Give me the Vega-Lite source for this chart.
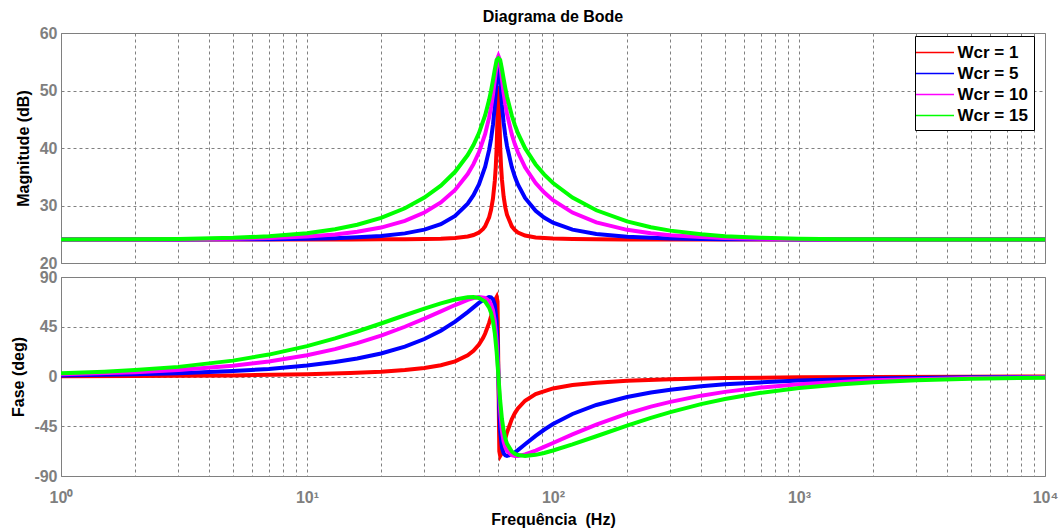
{
  "$schema": "https://vega.github.io/schema/vega-lite/v6.json",
  "background": "white",
  "padding": {"left": 10, "top": 8, "right": 5, "bottom": 0},
  "title": {"text": "Diagrama de Bode", "font": "Liberation Sans", "fontSize": 16, "fontWeight": "bold", "color": "#000000", "anchor": "middle", "frame": "group", "offset": 0},
  "bounds": "flush",
  "spacing": 14,
  "config": {
    "view": {"stroke": "#7f7f7f", "strokeWidth": 1},
    "axis": {"labelFont": "Liberation Sans", "labelFontSize": 16, "labelFontWeight": "bold", "labelColor": "#7f7f7f", "titleFont": "Liberation Sans", "titleFontSize": 16, "titleFontWeight": "bold", "titleColor": "#000000", "domain": false, "ticks": false, "gridColor": "#808080", "gridDash": [3, 3], "gridWidth": 1, "gridOpacity": 1}
  },
  "resolve": {"scale": {"color": "independent"}, "legend": {"color": "independent"}},
  "data": {"values": [
    {"s":"Wcr = 1","f":1,"mag":24.08,"ph":0.19},
    {"s":"Wcr = 1","f":2,"mag":24.08,"ph":0.39},
    {"s":"Wcr = 1","f":5,"mag":24.08,"ph":0.98},
    {"s":"Wcr = 1","f":10,"mag":24.09,"ph":2.0},
    {"s":"Wcr = 1","f":15,"mag":24.09,"ph":3.11},
    {"s":"Wcr = 1","f":20,"mag":24.11,"ph":4.37},
    {"s":"Wcr = 1","f":25,"mag":24.13,"ph":5.87},
    {"s":"Wcr = 1","f":30,"mag":24.17,"ph":7.74},
    {"s":"Wcr = 1","f":35,"mag":24.23,"ph":10.21},
    {"s":"Wcr = 1","f":40,"mag":24.35,"ph":13.73},
    {"s":"Wcr = 1","f":45,"mag":24.61,"ph":19.21},
    {"s":"Wcr = 1","f":47.5,"mag":24.86,"ph":23.28},
    {"s":"Wcr = 1","f":50,"mag":25.31,"ph":28.88},
    {"s":"Wcr = 1","f":52,"mag":25.93,"ph":35.02},
    {"s":"Wcr = 1","f":53,"mag":26.4,"ph":38.85},
    {"s":"Wcr = 1","f":55,"mag":27.96,"ph":48.47},
    {"s":"Wcr = 1","f":56,"mag":29.26,"ph":54.38},
    {"s":"Wcr = 1","f":57,"mag":31.19,"ph":60.91},
    {"s":"Wcr = 1","f":58,"mag":34.27,"ph":67.57},
    {"s":"Wcr = 1","f":58.5,"mag":36.6,"ph":70.41},
    {"s":"Wcr = 1","f":59,"mag":39.97,"ph":71.9},
    {"s":"Wcr = 1","f":59.5,"mag":45.63,"ph":67.84},
    {"s":"Wcr = 1","f":60,"mag":50.8,"ph":0},
    {"s":"Wcr = 1","f":60.5,"mag":45.7,"ph":-67.74},
    {"s":"Wcr = 1","f":61,"mag":40.1,"ph":-71.9},
    {"s":"Wcr = 1","f":61.5,"mag":36.81,"ph":-70.59},
    {"s":"Wcr = 1","f":62,"mag":34.54,"ph":-67.97},
    {"s":"Wcr = 1","f":63,"mag":31.55,"ph":-61.87},
    {"s":"Wcr = 1","f":64,"mag":29.67,"ph":-55.95},
    {"s":"Wcr = 1","f":65,"mag":28.4,"ph":-50.66},
    {"s":"Wcr = 1","f":68,"mag":26.37,"ph":-38.61},
    {"s":"Wcr = 1","f":70,"mag":25.72,"ph":-33.08},
    {"s":"Wcr = 1","f":72,"mag":25.31,"ph":-28.88},
    {"s":"Wcr = 1","f":77,"mag":24.77,"ph":-21.94},
    {"s":"Wcr = 1","f":85,"mag":24.44,"ph":-15.97},
    {"s":"Wcr = 1","f":100,"mag":24.25,"ph":-10.81},
    {"s":"Wcr = 1","f":120,"mag":24.17,"ph":-7.74},
    {"s":"Wcr = 1","f":150,"mag":24.13,"ph":-5.55},
    {"s":"Wcr = 1","f":200,"mag":24.1,"ph":-3.85},
    {"s":"Wcr = 1","f":300,"mag":24.09,"ph":-2.43},
    {"s":"Wcr = 1","f":500,"mag":24.08,"ph":-1.42},
    {"s":"Wcr = 1","f":1000,"mag":24.08,"ph":-0.7},
    {"s":"Wcr = 1","f":2000,"mag":24.08,"ph":-0.35},
    {"s":"Wcr = 1","f":5000,"mag":24.08,"ph":-0.14},
    {"s":"Wcr = 1","f":10000,"mag":24.08,"ph":-0.07},

    {"s":"Wcr = 5","f":1,"mag":24.08,"ph":0.97},
    {"s":"Wcr = 5","f":2,"mag":24.09,"ph":1.95},
    {"s":"Wcr = 5","f":3,"mag":24.09,"ph":2.93},
    {"s":"Wcr = 5","f":5,"mag":24.12,"ph":4.89},
    {"s":"Wcr = 5","f":7,"mag":24.15,"ph":6.87},
    {"s":"Wcr = 5","f":10,"mag":24.22,"ph":9.91},
    {"s":"Wcr = 5","f":13,"mag":24.32,"ph":13.03},
    {"s":"Wcr = 5","f":16,"mag":24.46,"ph":16.28},
    {"s":"Wcr = 5","f":20,"mag":24.7,"ph":20.85},
    {"s":"Wcr = 5","f":25,"mag":25.15,"ph":27.04},
    {"s":"Wcr = 5","f":30,"mag":25.8,"ph":33.88},
    {"s":"Wcr = 5","f":35,"mag":26.76,"ph":41.42},
    {"s":"Wcr = 5","f":40,"mag":28.19,"ph":49.63},
    {"s":"Wcr = 5","f":45,"mag":30.32,"ph":58.25},
    {"s":"Wcr = 5","f":47.5,"mag":31.79,"ph":62.52},
    {"s":"Wcr = 5","f":50,"mag":33.67,"ph":66.55},
    {"s":"Wcr = 5","f":53,"mag":36.75,"ph":70.53},
    {"s":"Wcr = 5","f":55,"mag":39.67,"ph":71.89},
    {"s":"Wcr = 5","f":56,"mag":41.59,"ph":71.61},
    {"s":"Wcr = 5","f":57,"mag":44.01,"ph":69.9},
    {"s":"Wcr = 5","f":58,"mag":47.25,"ph":64.93},
    {"s":"Wcr = 5","f":59,"mag":51.85,"ph":49.89},
    {"s":"Wcr = 5","f":59.5,"mag":54.55,"ph":31.33},
    {"s":"Wcr = 5","f":60,"mag":54.8,"ph":0},
    {"s":"Wcr = 5","f":60.5,"mag":54.57,"ph":-31.13},
    {"s":"Wcr = 5","f":61,"mag":51.93,"ph":-49.45},
    {"s":"Wcr = 5","f":62,"mag":47.5,"ph":-64.39},
    {"s":"Wcr = 5","f":63,"mag":44.41,"ph":-69.47},
    {"s":"Wcr = 5","f":64,"mag":42.14,"ph":-71.36},
    {"s":"Wcr = 5","f":65,"mag":40.36,"ph":-71.89},
    {"s":"Wcr = 5","f":68,"mag":36.68,"ph":-70.48},
    {"s":"Wcr = 5","f":70,"mag":34.99,"ph":-68.62},
    {"s":"Wcr = 5","f":72,"mag":33.67,"ph":-66.55},
    {"s":"Wcr = 5","f":77,"mag":31.32,"ph":-61.26},
    {"s":"Wcr = 5","f":85,"mag":29.08,"ph":-53.67},
    {"s":"Wcr = 5","f":92,"mag":27.9,"ph":-48.17},
    {"s":"Wcr = 5","f":100,"mag":27.01,"ph":-43.02},
    {"s":"Wcr = 5","f":120,"mag":25.8,"ph":-33.88},
    {"s":"Wcr = 5","f":150,"mag":25.04,"ph":-25.76},
    {"s":"Wcr = 5","f":200,"mag":24.57,"ph":-18.53},
    {"s":"Wcr = 5","f":250,"mag":24.38,"ph":-14.53},
    {"s":"Wcr = 5","f":300,"mag":24.28,"ph":-11.98},
    {"s":"Wcr = 5","f":400,"mag":24.19,"ph":-8.89},
    {"s":"Wcr = 5","f":500,"mag":24.15,"ph":-7.07},
    {"s":"Wcr = 5","f":1000,"mag":24.1,"ph":-3.51},
    {"s":"Wcr = 5","f":2000,"mag":24.09,"ph":-1.75},
    {"s":"Wcr = 5","f":5000,"mag":24.08,"ph":-0.7},
    {"s":"Wcr = 5","f":10000,"mag":24.08,"ph":-0.35},

    {"s":"Wcr = 10","f":1,"mag":24.09,"ph":1.95},
    {"s":"Wcr = 10","f":2,"mag":24.1,"ph":3.89},
    {"s":"Wcr = 10","f":3,"mag":24.13,"ph":5.83},
    {"s":"Wcr = 10","f":5,"mag":24.21,"ph":9.7},
    {"s":"Wcr = 10","f":7,"mag":24.34,"ph":13.54},
    {"s":"Wcr = 10","f":10,"mag":24.61,"ph":19.21},
    {"s":"Wcr = 10","f":13,"mag":24.97,"ph":24.75},
    {"s":"Wcr = 10","f":16,"mag":25.42,"ph":30.12},
    {"s":"Wcr = 10","f":20,"mag":26.16,"ph":36.98},
    {"s":"Wcr = 10","f":25,"mag":27.33,"ph":45.0},
    {"s":"Wcr = 10","f":30,"mag":28.77,"ph":52.33},
    {"s":"Wcr = 10","f":35,"mag":30.53,"ph":58.93},
    {"s":"Wcr = 10","f":40,"mag":32.7,"ph":64.64},
    {"s":"Wcr = 10","f":45,"mag":35.47,"ph":69.23},
    {"s":"Wcr = 10","f":47.5,"mag":37.19,"ph":70.88},
    {"s":"Wcr = 10","f":50,"mag":39.25,"ph":71.83},
    {"s":"Wcr = 10","f":53,"mag":42.45,"ph":71.18},
    {"s":"Wcr = 10","f":55,"mag":45.32,"ph":68.3},
    {"s":"Wcr = 10","f":56,"mag":47.11,"ph":65.21},
    {"s":"Wcr = 10","f":57,"mag":49.25,"ph":59.86},
    {"s":"Wcr = 10","f":58,"mag":51.8,"ph":50.1},
    {"s":"Wcr = 10","f":59,"mag":54.54,"ph":31.44},
    {"s":"Wcr = 10","f":59.5,"mag":55.59,"ph":17.05},
    {"s":"Wcr = 10","f":60,"mag":56.0,"ph":0},
    {"s":"Wcr = 10","f":60.5,"mag":55.6,"ph":-16.92},
    {"s":"Wcr = 10","f":61,"mag":54.58,"ph":-31.02},
    {"s":"Wcr = 10","f":62,"mag":51.98,"ph":-49.24},
    {"s":"Wcr = 10","f":63,"mag":49.59,"ph":-58.8},
    {"s":"Wcr = 10","f":64,"mag":47.61,"ph":-64.14},
    {"s":"Wcr = 10","f":65,"mag":45.97,"ph":-67.3},
    {"s":"Wcr = 10","f":68,"mag":42.37,"ph":-71.23},
    {"s":"Wcr = 10","f":70,"mag":40.65,"ph":-71.86},
    {"s":"Wcr = 10","f":72,"mag":39.25,"ph":-71.83},
    {"s":"Wcr = 10","f":77,"mag":36.64,"ph":-70.45},
    {"s":"Wcr = 10","f":85,"mag":33.91,"ph":-66.97},
    {"s":"Wcr = 10","f":92,"mag":32.29,"ph":-63.71},
    {"s":"Wcr = 10","f":100,"mag":30.93,"ph":-60.14},
    {"s":"Wcr = 10","f":120,"mag":28.77,"ph":-52.33},
    {"s":"Wcr = 10","f":150,"mag":27.07,"ph":-43.45},
    {"s":"Wcr = 10","f":200,"mag":25.77,"ph":-33.59},
    {"s":"Wcr = 10","f":250,"mag":25.17,"ph":-27.28},
    {"s":"Wcr = 10","f":300,"mag":24.84,"ph":-22.92},
    {"s":"Wcr = 10","f":400,"mag":24.51,"ph":-17.33},
    {"s":"Wcr = 10","f":500,"mag":24.36,"ph":-13.92},
    {"s":"Wcr = 10","f":700,"mag":24.22,"ph":-9.98},
    {"s":"Wcr = 10","f":1000,"mag":24.15,"ph":-7.0},
    {"s":"Wcr = 10","f":2000,"mag":24.1,"ph":-3.5},
    {"s":"Wcr = 10","f":5000,"mag":24.09,"ph":-1.4},
    {"s":"Wcr = 10","f":10000,"mag":24.08,"ph":-0.7},

    {"s":"Wcr = 15","f":1,"mag":24.09,"ph":2.92},
    {"s":"Wcr = 15","f":1.5,"mag":24.11,"ph":4.38},
    {"s":"Wcr = 15","f":2,"mag":24.13,"ph":5.83},
    {"s":"Wcr = 15","f":3,"mag":24.19,"ph":8.71},
    {"s":"Wcr = 15","f":5,"mag":24.37,"ph":14.37},
    {"s":"Wcr = 15","f":7,"mag":24.64,"ph":19.82},
    {"s":"Wcr = 15","f":10,"mag":25.19,"ph":27.5},
    {"s":"Wcr = 15","f":13,"mag":25.87,"ph":34.47},
    {"s":"Wcr = 15","f":16,"mag":26.66,"ph":40.71},
    {"s":"Wcr = 15","f":20,"mag":27.85,"ph":47.94},
    {"s":"Wcr = 15","f":25,"mag":29.52,"ph":55.41},
    {"s":"Wcr = 15","f":30,"mag":31.38,"ph":61.41},
    {"s":"Wcr = 15","f":35,"mag":33.46,"ph":66.16},
    {"s":"Wcr = 15","f":40,"mag":35.86,"ph":69.68},
    {"s":"Wcr = 15","f":45,"mag":38.77,"ph":71.7},
    {"s":"Wcr = 15","f":47.5,"mag":40.52,"ph":71.88},
    {"s":"Wcr = 15","f":50,"mag":42.59,"ph":71.09},
    {"s":"Wcr = 15","f":53,"mag":45.71,"ph":67.73},
    {"s":"Wcr = 15","f":55,"mag":48.38,"ph":62.27},
    {"s":"Wcr = 15","f":56,"mag":49.98,"ph":57.53},
    {"s":"Wcr = 15","f":57,"mag":51.75,"ph":50.33},
    {"s":"Wcr = 15","f":58,"mag":53.63,"ph":39.2},
    {"s":"Wcr = 15","f":59,"mag":55.29,"ph":22.29},
    {"s":"Wcr = 15","f":60,"mag":55.6,"ph":0},
    {"s":"Wcr = 15","f":61,"mag":55.31,"ph":-21.96},
    {"s":"Wcr = 15","f":62,"mag":53.75,"ph":-38.3},
    {"s":"Wcr = 15","f":63,"mag":52.02,"ph":-49.03},
    {"s":"Wcr = 15","f":64,"mag":50.4,"ph":-56.0},
    {"s":"Wcr = 15","f":65,"mag":48.97,"ph":-60.67},
    {"s":"Wcr = 15","f":68,"mag":45.64,"ph":-67.83},
    {"s":"Wcr = 15","f":70,"mag":43.97,"ph":-69.95},
    {"s":"Wcr = 15","f":72,"mag":42.59,"ph":-71.09},
    {"s":"Wcr = 15","f":77,"mag":39.97,"ph":-71.9},
    {"s":"Wcr = 15","f":85,"mag":37.14,"ph":-70.85},
    {"s":"Wcr = 15","f":92,"mag":35.41,"ph":-69.16},
    {"s":"Wcr = 15","f":100,"mag":33.91,"ph":-66.96},
    {"s":"Wcr = 15","f":120,"mag":31.38,"ph":-61.41},
    {"s":"Wcr = 15","f":150,"mag":29.17,"ph":-54.04},
    {"s":"Wcr = 15","f":200,"mag":27.24,"ph":-44.47},
    {"s":"Wcr = 15","f":250,"mag":26.23,"ph":-37.47},
    {"s":"Wcr = 15","f":300,"mag":25.63,"ph":-32.23},
    {"s":"Wcr = 15","f":400,"mag":24.99,"ph":-25.01},
    {"s":"Wcr = 15","f":500,"mag":24.67,"ph":-20.36},
    {"s":"Wcr = 15","f":700,"mag":24.39,"ph":-14.77},
    {"s":"Wcr = 15","f":1000,"mag":24.23,"ph":-10.43},
    {"s":"Wcr = 15","f":1500,"mag":24.15,"ph":-6.98},
    {"s":"Wcr = 15","f":2000,"mag":24.12,"ph":-5.25},
    {"s":"Wcr = 15","f":3000,"mag":24.1,"ph":-3.5},
    {"s":"Wcr = 15","f":5000,"mag":24.09,"ph":-2.1},
    {"s":"Wcr = 15","f":10000,"mag":24.08,"ph":-1.05}
  ]},
  "vconcat": [
    {
      "width": 984,
      "height": 230,
      "mark": {"type": "line", "strokeWidth": 4, "clip": true},
      "encoding": {
        "x": {"field": "f", "type": "quantitative", "scale": {"type": "log", "domain": [1, 10000], "nice": false},
          "axis": {"values": [1,2,3,4,5,6,7,8,9,10,20,30,40,50,60,70,80,90,100,200,300,400,500,600,700,800,900,1000,2000,3000,4000,5000,6000,7000,8000,9000,10000], "labels": false, "title": null, "grid": true}},
        "y": {"field": "mag", "type": "quantitative", "scale": {"domain": [20, 60], "nice": false, "zero": false},
          "axis": {"values": [20,30,40,50,60], "labelExpr": "'' + datum.value", "title": "Magnitude (dB)", "labelPadding": 4, "titlePadding": 8, "grid": true}},
        "color": {"field": "s", "type": "nominal",
          "scale": {"domain": ["Wcr = 1","Wcr = 5","Wcr = 10","Wcr = 15"], "range": ["#ff0000","#0000ff","#ff00ff","#00ff00"]},
          "legend": {"orient": "none", "legendX": 854, "legendY": 3, "title": null, "symbolType": "M-2,0H2", "symbolSize": 361, "symbolStrokeWidth": 1.5, "labelFont": "Liberation Sans", "labelFontSize": 17, "labelFontWeight": "bold", "labelColor": "#000000", "labelOffset": 12, "symbolOffset": 3.5, "padding": 6, "rowPadding": 2, "strokeColor": "#000000", "fillColor": "#ffffff", "cornerRadius": 0, "labelLimit": 200}}
      }
    },
    {
      "width": 984,
      "height": 199,
      "mark": {"type": "line", "strokeWidth": 4, "clip": true},
      "encoding": {
        "x": {"field": "f", "type": "quantitative", "scale": {"type": "log", "domain": [1, 10000], "nice": false},
          "axis": {"values": [1,2,3,4,5,6,7,8,9,10,20,30,40,50,60,70,80,90,100,200,300,400,500,600,700,800,900,1000,2000,3000,4000,5000,6000,7000,8000,9000,10000],
            "labelExpr": "datum.value == 1 ? '10⁰' : datum.value == 10 ? '10¹' : datum.value == 100 ? '10²' : datum.value == 1000 ? '10³' : datum.value == 10000 ? '10⁴' : ''",
            "labelFlush": false, "labelOverlap": false, "labelPadding": 13, "title": "Frequência\u00a0\u00a0(Hz)", "titlePadding": 6, "grid": true}},
        "y": {"field": "ph", "type": "quantitative", "scale": {"domain": [-90, 90], "nice": false, "zero": false},
          "axis": {"values": [-90,-45,0,45,90], "labelExpr": "'' + datum.value", "title": "Fase (deg)", "labelPadding": 4, "titlePadding": 7, "grid": true}},
        "color": {"field": "s", "type": "nominal",
          "scale": {"domain": ["Wcr = 1","Wcr = 5","Wcr = 10","Wcr = 15"], "range": ["#ff0000","#0000ff","#ff00ff","#00ff00"]},
          "legend": null}
      }
    }
  ]
}
